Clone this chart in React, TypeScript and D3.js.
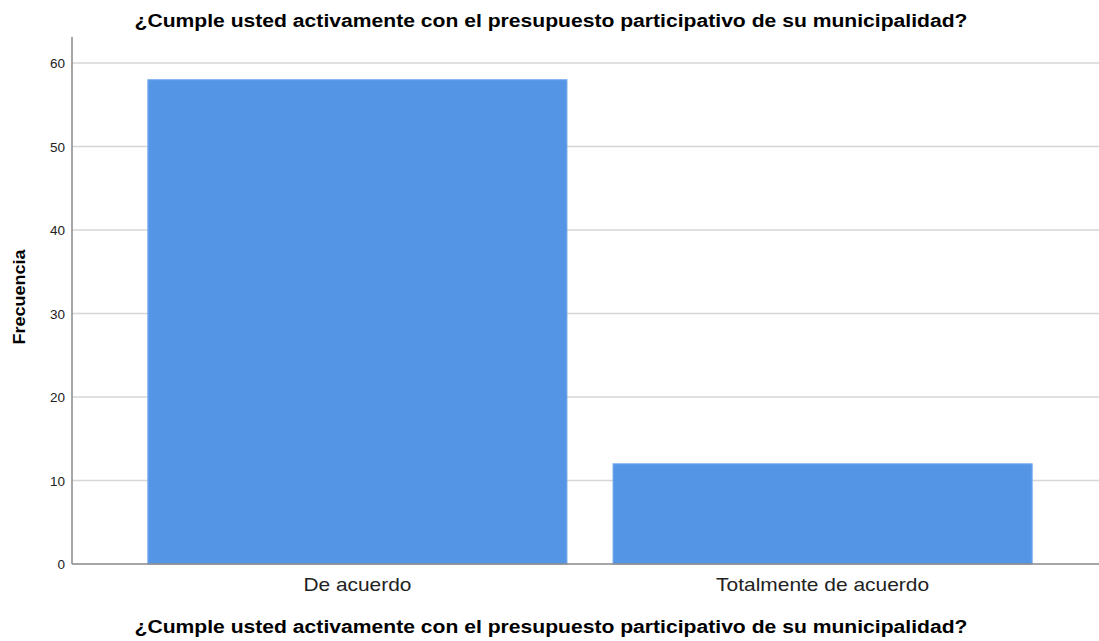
import React from "react";
import * as d3 from "d3";

const title = "¿Cumple usted activamente con el presupuesto participativo de su municipalidad?";
const categories = ["De acuerdo", "Totalmente de acuerdo"];
const frequencies = [58, 12];
const yTicks = [0, 10, 20, 30, 40, 50, 60];

// measured label widths in the original picture
const categoryLabelWidths = [108, 213];

export default function App() {
    const width = 1099;
    const height = 641;
    const left = 72;
    const baseline = 564;

    const y = d3.scaleLinear().domain([0, 60]).range([baseline, 63]);
    const x = d3
        .scaleBand<string>()
        .domain(categories)
        .range([left, 1108])
        .paddingInner(0.099)
        .paddingOuter(0.163);

    const font = "Arial, 'Liberation Sans', sans-serif";

    return (
        <svg
            width={width}
            height={height}
            style={{ position: "absolute", left: 0, top: 0, background: "#fff" }}
            fontFamily={font}
        >
            <text
                x={551}
                y={27}
                textAnchor="middle"
                fontSize={18}
                fontWeight="bold"
                fill="#000"
                textLength={833}
                lengthAdjust="spacingAndGlyphs"
            >
                {title}
            </text>
            {yTicks.map((t) => (
                <g key={t}>
                    {t > 0 && (
                        <line x1={left} x2={width} y1={y(t)} y2={y(t)} stroke="#d6d6d6" strokeWidth={1.5} />
                    )}
                    <text x={65} y={y(t) + 5} textAnchor="end" fontSize={13.5} fill="#222">
                        {t}
                    </text>
                </g>
            ))}
            {categories.map((c, i) => (
                <g key={c}>
                    <rect
                        x={x(c)}
                        y={y(frequencies[i])}
                        width={x.bandwidth()}
                        height={baseline - y(frequencies[i])}
                        fill="#5595e5"
                        stroke="#7aaeee"
                        strokeWidth={1}
                    />
                    <text
                        x={(x(c) as number) + x.bandwidth() / 2}
                        y={591}
                        textAnchor="middle"
                        fontSize={18.5}
                        fill="#222"
                        textLength={categoryLabelWidths[i]}
                        lengthAdjust="spacingAndGlyphs"
                    >
                        {c}
                    </text>
                </g>
            ))}
            <line x1={left} x2={left} y1={37} y2={baseline} stroke="#888" strokeWidth={1.5} />
            <line x1={left} x2={width} y1={baseline} y2={baseline} stroke="#888" strokeWidth={1.5} />
            <text
                transform={`translate(25,${297}) rotate(-90)`}
                textAnchor="middle"
                fontSize={17}
                fontWeight="bold"
                fill="#000"
                textLength={95}
                lengthAdjust="spacingAndGlyphs"
            >
                Frecuencia
            </text>
            <text
                x={551}
                y={633}
                textAnchor="middle"
                fontSize={18}
                fontWeight="bold"
                fill="#000"
                textLength={833}
                lengthAdjust="spacingAndGlyphs"
            >
                {title}
            </text>
        </svg>
    );
}
